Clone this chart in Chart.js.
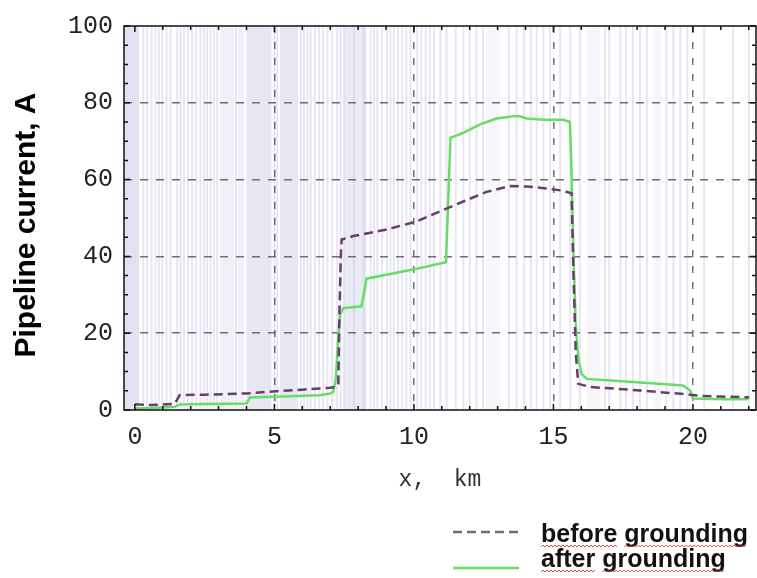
<!DOCTYPE html>
<html>
<head>
<meta charset="utf-8">
<script src="https://cdn.jsdelivr.net/npm/chart.js@4/dist/chart.umd.min.js"></script>
<style>
    body { margin: 0; background: #fff; }
</style>
</head>
<body>
<canvas id="myChart" width="757" height="578"></canvas>
<script>
// distance along the pipeline, km / current, A
const beforeX = [0, 0.5, 1.0, 1.43, 1.6, 2.5, 4.0, 5.08, 6.0, 7.0, 7.11, 7.29, 7.33, 7.38, 7.41, 7.83, 9.02, 10.1, 11.05, 11.77,
    12.6, 13.44, 14.04, 14.75, 15.35, 15.65, 15.72, 15.8, 15.89, 16.31, 18.1, 19.9, 20.25, 21.0, 22.0];
const beforeY = [1.5, 1.3, 1.4, 1.6, 3.85, 4.0, 4.3, 4.9, 5.3, 5.8, 5.9, 6.5, 25, 40, 44.4, 45.3, 47, 49.1, 52.1, 54.3,
    56.8, 58.3, 58.2, 57.7, 57.1, 56.4, 35, 15, 6.8, 6.0, 5.1, 4.0, 3.7, 3.5, 3.3];

const afterX = [0, 0.8, 1.43, 1.6, 2.5, 4.0, 4.12, 5.5, 6.63, 7.0, 7.11, 7.2, 7.28, 7.35, 7.47, 8.12, 8.2, 8.3, 10.1, 11.15,
    11.31, 11.77, 12.37, 12.96, 13.56, 13.8, 14.04, 14.64, 15.35, 15.59, 15.65, 15.72, 15.8, 15.9, 16.01, 16.19, 17.86, 19.65, 19.9, 20.0,
    21.0, 21.92, 22.03];
const afterY = [0.4, 0.6, 0.85, 1.45, 1.55, 1.7, 3.25, 3.6, 3.85, 4.3, 4.7, 8, 18, 24.8, 26.5, 27, 30, 34.2, 36.8, 38.5,
    70.9, 72.2, 74.4, 75.9, 76.5, 76.5, 75.9, 75.6, 75.6, 75, 62, 40, 22, 13, 9.4, 8.1, 7.3, 6.4, 5.1, 3.0,
    2.8, 2.8, 3.4];

// background shading (km)
const stripeBands = [[-0.4, 0.15, 0.35], [3.05, 3.55, 0.18], [3.7, 3.9, 0.18], [4.0, 4.9, 0.28], [5.2, 5.85, 0.28],
    [7.5, 8.3, 0.25], [12.6, 13.1, 0.1], [16.2, 16.7, 0.12], [18.6, 18.9, 0.12]];
const stripeLines = [0.3, 0.44, 0.6, 0.74, 0.86, 0.98, 1.13, 1.28, 1.52, 1.64, 1.76, 1.9, 2.05, 2.2, 2.35, 2.47, 2.59, 2.71, 2.83,
    2.95, 3.62, 5.0, 5.1, 5.95, 6.06, 6.18, 6.3, 6.45, 6.6, 6.75, 6.9, 7.07, 7.25, 7.37, 7.49, 7.85, 8.2, 8.45, 8.57, 8.69,
    8.86, 9.04, 9.16, 9.28, 9.43, 9.58, 9.73, 9.88, 10.12, 10.27, 10.42, 10.57, 10.72, 10.95, 11.17, 11.5, 11.77, 12.0,
    12.24, 12.48, 13.4, 13.68, 13.95, 14.2, 14.4, 14.64, 14.88, 15.24, 15.6, 15.95, 16.85, 17.0, 17.4, 17.6, 17.85, 18.1,
    18.35, 19.05, 19.3, 19.55, 19.8, 20.4, 21.44, 22.0];

const legendLabels = ['before grounding', 'after grounding'];
const yTitle = 'Pipeline current, A';

const toPoints = (xs, ys) => xs.map((v, i) => ({ x: v, y: ys[i] }));

const stripes = {
    id: 'stripes',
    beforeDraw(chart) {
        const { ctx, chartArea: a, scales: { x } } = chart;
        ctx.save();
        ctx.fillStyle = '#fff';
        ctx.fillRect(0, 0, chart.width, chart.height);
        ctx.beginPath();
        ctx.rect(a.left, a.top, a.right - a.left, a.bottom - a.top);
        ctx.clip();
        stripeBands.forEach(b => {
            const x0 = x.getPixelForValue(b[0]);
            const x1 = x.getPixelForValue(b[1]);
            ctx.fillStyle = 'rgba(170, 170, 215, ' + b[2] + ')';
            ctx.fillRect(x0, a.top, x1 - x0, a.bottom - a.top);
        });
        ctx.fillStyle = 'rgba(200, 200, 232, 0.45)';
        stripeLines.forEach(v => {
            ctx.fillRect(x.getPixelForValue(v) - 1, a.top, 2, a.bottom - a.top);
        });
        ctx.restore();
    }
};

const frame = {
    id: 'frame',
    afterDraw(chart) {
        const { ctx, chartArea: a, scales: { x, y } } = chart;
        ctx.save();
        ctx.strokeStyle = '#111';
        ctx.lineWidth = 1.5;
        ctx.strokeRect(a.left, a.top, a.right - a.left, a.bottom - a.top);
        ctx.beginPath();
        for (let v = 0; v <= 22; v++) {
            const px = x.getPixelForValue(v);
            const len = v % 5 === 0 ? 6 : 4;
            ctx.moveTo(px, a.bottom); ctx.lineTo(px, a.bottom - len);
            ctx.moveTo(px, a.top); ctx.lineTo(px, a.top + len);
        }
        for (let v = 0; v <= 100; v += 5) {
            const py = y.getPixelForValue(v);
            const len = v % 20 === 0 ? 6 : 4;
            ctx.moveTo(a.left, py); ctx.lineTo(a.left + len, py);
            ctx.moveTo(a.right, py); ctx.lineTo(a.right - len, py);
        }
        ctx.stroke();

        // y axis title
        ctx.save();
        ctx.translate(27, 225);
        ctx.rotate(-Math.PI / 2);
        ctx.font = 'bold 30px "Liberation Sans", Arial, sans-serif';
        ctx.fillStyle = '#000';
        ctx.textAlign = 'center';
        ctx.textBaseline = 'middle';
        ctx.fillText(yTitle, 0, 0);
        ctx.restore();

        // legend
        const rows = [532, 568];
        const textY = [542, 567];
        chart.data.datasets.forEach((ds, i) => {
            ctx.strokeStyle = i === 0 ? 'rgb(120, 105, 120)' : ds.borderColor;
            ctx.lineWidth = ds.borderWidth;
            ctx.setLineDash(ds.borderDash || []);
            ctx.beginPath();
            ctx.moveTo(453, rows[i]);
            ctx.lineTo(519, rows[i]);
            ctx.stroke();
            ctx.setLineDash([]);

            ctx.font = 'bold 25px "Liberation Sans", Arial, sans-serif';
            ctx.fillStyle = '#111';
            ctx.textBaseline = 'alphabetic';
            ctx.fillText(legendLabels[i], 541, textY[i]);

            // spell-check squiggles under each word
            ctx.strokeStyle = 'rgba(215, 40, 40, 0.85)';
            ctx.lineWidth = 1;
            let start = 541;
            legendLabels[i].split(' ').forEach(word => {
                const w = ctx.measureText(word).width;
                ctx.beginPath();
                for (let sx = start, k = 0; sx <= start + w; sx += 2, k++) {
                    const sy = textY[i] + 4 + (k % 2 ? -1 : 1);
                    if (k === 0) ctx.moveTo(sx, sy); else ctx.lineTo(sx, sy);
                }
                ctx.stroke();
                start += w + ctx.measureText(' ').width;
            });
        });
        ctx.restore();
    }
};

new Chart(document.getElementById('myChart'), {
    type: 'line',
    data: {
        datasets: [{
            label: legendLabels[0],
            data: toPoints(beforeX, beforeY),
            borderColor: 'rgb(105, 60, 105)',
            borderWidth: 2.5,
            borderDash: [9, 5],
            pointRadius: 0,
            tension: 0
        }, {
            label: legendLabels[1],
            data: toPoints(afterX, afterY),
            borderColor: 'rgb(102, 222, 102)',
            borderWidth: 2.5,
            pointRadius: 0,
            tension: 0
        }]
    },
    options: {
        responsive: false,
        animation: false,
        devicePixelRatio: 1,
        layout: { padding: { top: 20, right: 1, left: 0, bottom: 0 } },
        plugins: { legend: { display: false }, tooltip: { enabled: false } },
        scales: {
            x: {
                type: 'linear',
                min: -0.39,
                max: 22.26,
                afterFit: s => { s.height = 168; },
                ticks: {
                    stepSize: 5,
                    includeBounds: false,
                    maxRotation: 0,
                    padding: 12,
                    color: '#222',
                    font: { family: 'Liberation Mono', size: 25 }
                },
                grid: {
                    drawTicks: false,
                    lineWidth: 1.5,
                    color: c => (c.tick && c.tick.value === 0) ? 'transparent' : '#6e6e6e'
                },
                border: { display: false, dash: [7, 9] },
                title: {
                    display: true,
                    text: 'x,  km',
                    color: '#333',
                    font: { family: 'Liberation Mono', size: 23 },
                    padding: { top: 0, bottom: 84 }
                }
            },
            y: {
                min: 0,
                max: 100,
                afterFit: s => { s.width = 124; },
                ticks: {
                    stepSize: 20,
                    padding: 11,
                    color: '#222',
                    font: { family: 'Liberation Mono', size: 25 }
                },
                grid: {
                    drawTicks: false,
                    lineWidth: 1.5,
                    color: c => (c.tick && (c.tick.value === 0 || c.tick.value === 100)) ? 'transparent' : '#6e6e6e'
                },
                border: { display: false, dash: [8, 8] }
            }
        }
    },
    plugins: [stripes, frame]
});
</script>
</body>
</html>
